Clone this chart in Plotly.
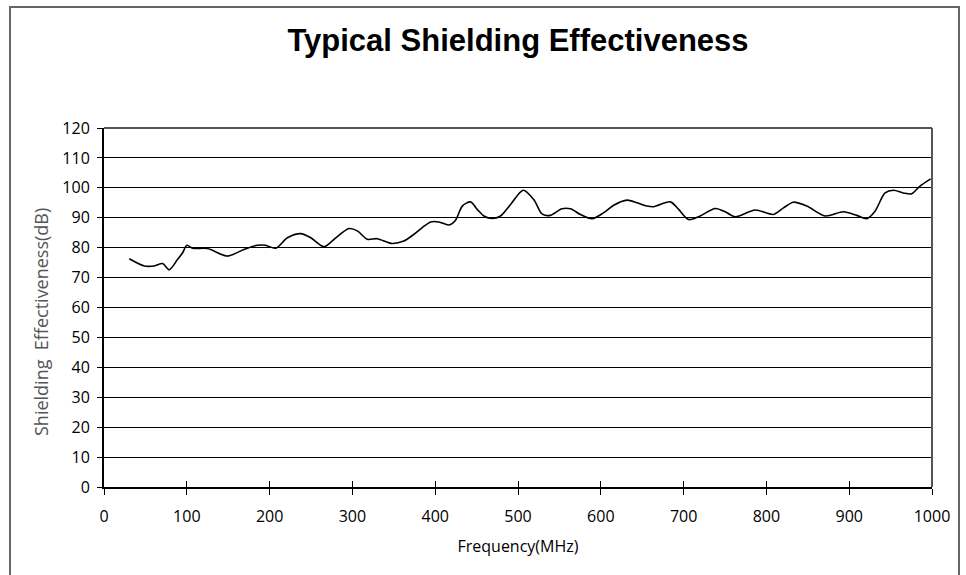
import plotly.graph_objects as go

freq_mhz = [30.5, 48.6, 60.7, 70.8, 78.8, 88.9, 94.9, 100.1, 107, 125, 149, 169, 185, 195,
            207.5, 221.5, 237.6, 249.7, 265.8, 279.9, 296, 306, 318, 330, 348, 362, 374,
            384.4, 394.5, 404.5, 416.6, 424.6, 432.7, 442.7, 450.8, 458.8, 468.9, 478.9,
            491, 506.2, 519, 529, 539.2, 553, 563.3, 575.4, 589.5, 603.5, 615.6, 631.7,
            643.8, 656, 663.8, 684, 694, 706, 720, 738.2, 750.3, 762.4, 786.5, 808.6,
            820.6, 832.7, 848.8, 870.9, 893, 909.2, 921.2, 931.2, 943.3, 953.4, 965.4,
            975.5, 985.5, 998.4]
shielding_db = [76.3, 73.9, 73.9, 74.7, 72.6, 76.1, 78.3, 80.8, 79.8, 79.7, 77.2, 79.4, 80.8, 80.8,
                79.8, 83.3, 84.7, 83.3, 80.3, 83.3, 86.4, 85.6, 82.8, 83.0, 81.4, 82.2, 84.4,
                86.7, 88.6, 88.6, 87.6, 89.2, 93.9, 95.3, 92.8, 90.6, 89.8, 90.6,
                94.4, 99.2, 96.1, 91.3, 90.8, 93.0, 93.0, 91.1, 89.7, 91.7, 94.2, 95.9,
                95.0, 93.9, 93.7, 95.3, 92.8, 89.4, 90.6, 93.1, 92.0, 90.3, 92.6, 91.1,
                93.3, 95.2, 93.9, 90.6, 92.0, 90.8, 89.7, 92.2, 98.3, 99.2, 98.3,
                98.0, 100.6, 103.0]

x_ticks = [0, 100, 200, 300, 400, 500, 600, 700, 800, 900, 1000]
y_ticks = [0, 10, 20, 30, 40, 50, 60, 70, 80, 90, 100, 110, 120]

title_text = "Typical Shielding Effectiveness"
x_title = "Frequency(MHz)"
y_title = "Shielding  Effectiveness(dB)"

W, H = 966, 575
# target plot area in page pixels: x 104..932, y 128..487
L, T = 104, 128
R = W - 932
B = H - 487
pw, ph = W - L - R, H - T - B

def px_x(px):
    return (px - L) / pw

def px_y(py):
    return (H - B - py) / ph

fig = go.Figure()
fig.add_trace(go.Scatter(
    x=freq_mhz, y=shielding_db, mode="lines",
    line=dict(color="black", width=1.6, shape="spline", smoothing=0.8),
    hoverinfo="x+y", showlegend=False,
))
fig.add_trace(go.Scatter(x=[0, 1000], y=[0, 0], xaxis="x2", mode="lines",
                         line=dict(width=0), hoverinfo="skip", showlegend=False))

tick_font = dict(family="Open Sans, sans-serif", size=16, color="black")

fig.update_layout(
    width=W, height=H,
    margin=dict(l=L, r=R, t=T, b=B),
    paper_bgcolor="white", plot_bgcolor="white",
    title=dict(text="<b>" + title_text + "</b>",
               font=dict(family="Liberation Sans, Arial, sans-serif", size=31, color="black"),
               x=px_x(518), xref="paper", xanchor="center",
               y=1 - 40 / H, yanchor="middle"),
    xaxis=dict(range=[0, 1000], tickvals=x_ticks, ticktext=[str(v) for v in x_ticks],
               ticks="outside", ticklen=6, tickwidth=1, tickcolor="black",
               ticklabelstandoff=8,
               showgrid=False, zeroline=False, showline=True, linecolor="black", linewidth=2,
               tickfont=tick_font, fixedrange=True,
               title=dict(text=x_title, standoff=15,
                          font=dict(family="Open Sans, sans-serif", size=16, color="black"))),
    xaxis2=dict(range=[0, 1000], overlaying="x", tickvals=x_ticks, showticklabels=False,
                ticks="inside", ticklen=6, tickwidth=1, tickcolor="black",
                showgrid=False, zeroline=False, showline=False, side="bottom"),
    yaxis=dict(range=[0, 120], tickvals=y_ticks, ticktext=[str(v) for v in y_ticks],
               ticks="outside", ticklen=5, tickwidth=1, tickcolor="black",
               ticklabelstandoff=4,
               showgrid=True, gridcolor="black", gridwidth=1,
               zeroline=False, showline=True, linecolor="black", linewidth=2,
               tickfont=tick_font, fixedrange=True),
    annotations=[
        dict(text=y_title, textangle=-90, xref="paper", yref="paper",
             x=px_x(41), y=px_y(322), xanchor="center", yanchor="middle",
             showarrow=False,
             font=dict(family="Open Sans, sans-serif", size=18, color="#555555")),
    ],
    shapes=[
        dict(type="line", xref="paper", yref="paper", x0=0, x1=1, y0=1, y1=1,
             line=dict(color="#555555", width=2)),
        dict(type="line", xref="paper", yref="paper", x0=1, x1=1, y0=0, y1=1,
             line=dict(color="#555555", width=2)),
        dict(type="rect", xref="paper", yref="paper",
             x0=px_x(10), x1=px_x(959),
             y0=px_y(590), y1=px_y(7),
             line=dict(color="#666666", width=2), layer="below"),
    ],
)

fig.write_html("out.html", config={"displayModeBar": False},
               post_script="document.body.style.margin='0px';")
